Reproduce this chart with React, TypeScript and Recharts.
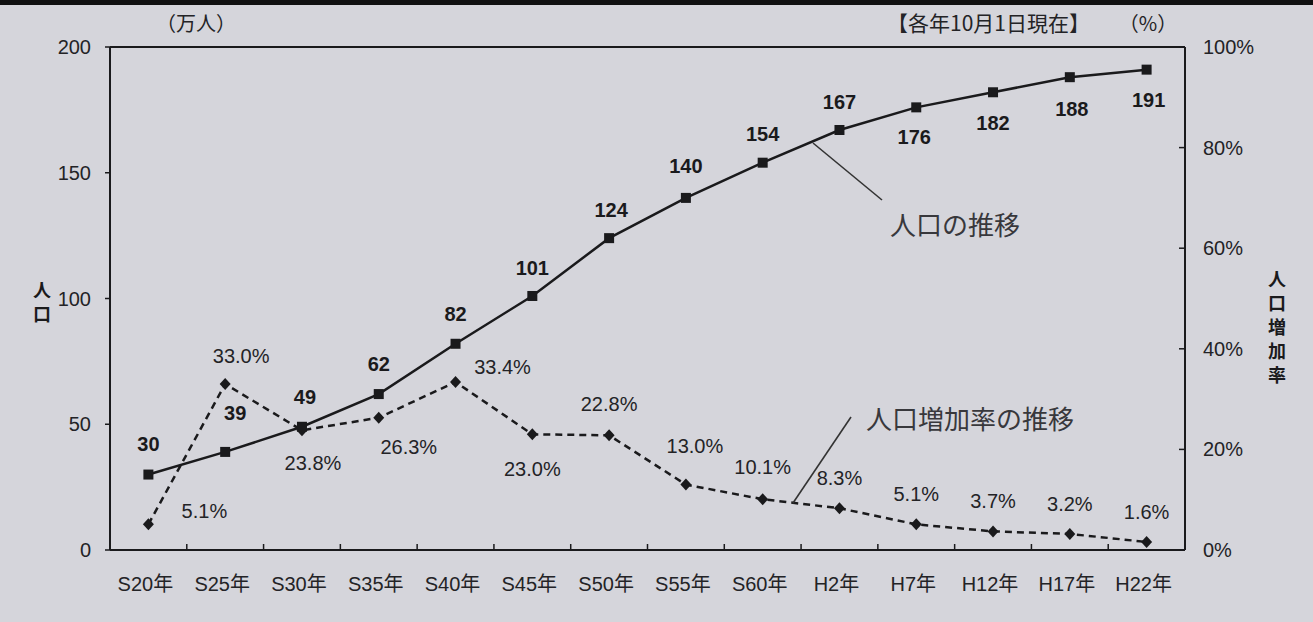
import {
    ComposedChart,
    LabelList,
    Line,
    ReferenceLine,
    XAxis,
    YAxis,
} from 'recharts';

const years = [
    'S20年', 'S25年', 'S30年', 'S35年', 'S40年', 'S45年', 'S50年',
    'S55年', 'S60年', 'H2年', 'H7年', 'H12年', 'H17年', 'H22年',
];
const population = [30, 39, 49, 62, 82, 101, 124, 140, 154, 167, 176, 182, 188, 191];
const growthRate = [5.1, 33.0, 23.8, 26.3, 33.4, 23.0, 22.8, 13.0, 10.1, 8.3, 5.1, 3.7, 3.2, 1.6];
const populationTicks = [0, 50, 100, 150, 200];
const rateTicks = [0, 20, 40, 60, 80, 100];

// where the printed labels sit relative to their point (dx, dy)
const popNudge: [number, number][] = [
    [0, -31], [10, -39], [3, -30], [0, -30], [0, -30], [0, -28], [2, -28],
    [0, -32], [0, -29], [0, -28], [-2, 30], [0, 31], [2, 32], [2, 30],
];
const rateNudge: [number, number][] = [
    [56, -13], [16, -28], [11, 33], [30, 29], [47, -15], [0, 35], [0, -31],
    [9, -39], [0, -32], [0, -30], [0, -30], [0, -30], [0, -30], [0, -30],
];

const W = 1313;
const H = 622;
const PLOT = { left: 110, right: 1185, top: 47, bottom: 550 };
const band = (PLOT.right - PLOT.left) / years.length;

const INK = '#1a1a1c';
const TEXT = '#232326';
const PAPER = '#d5d5db';
const NUM_FONT = "'Liberation Sans', Arial, 'Noto Sans CJK JP', sans-serif";
const JP_FONT = "'Noto Sans CJK JP', 'Liberation Sans', sans-serif";

const data = years.map((year, i) => ({
    year,
    pop: population[i],
    rate: growthRate[i],
}));

function XTick(props: any) {
    const { x, y, payload } = props;
    return (
        <g>
            <line x1={x + band / 2} x2={x + band / 2} y1={y} y2={y - 6} stroke={INK} strokeWidth={1.5} />
            <text
                x={x - 3}
                y={y + 34}
                textAnchor="middle"
                dominantBaseline="central"
                fontSize={20}
                fontFamily={NUM_FONT}
                fill={TEXT}
            >
                {payload.value}
            </text>
        </g>
    );
}

function RightTick(props: any) {
    const { x, y, payload } = props;
    return (
        <g>
            <line x1={x} x2={x - 6} y1={y} y2={y} stroke={INK} strokeWidth={1.5} />
            <text
                x={x + 18}
                y={y}
                textAnchor="start"
                dominantBaseline="central"
                fontSize={20}
                fontFamily={NUM_FONT}
                fill={TEXT}
            >
                {`${payload.value}%`}
            </text>
        </g>
    );
}

function PopLabel(props: any) {
    const { x, y, value, index } = props;
    const [dx, dy] = popNudge[index];
    return (
        <text
            x={x + dx}
            y={y + dy}
            textAnchor="middle"
            dominantBaseline="central"
            fontSize={20}
            fontWeight={700}
            fontFamily={NUM_FONT}
            fill={INK}
        >
            {value}
        </text>
    );
}

function RateLabel(props: any) {
    const { x, y, value, index } = props;
    const [dx, dy] = rateNudge[index];
    return (
        <text
            x={x + dx}
            y={y + dy}
            textAnchor="middle"
            dominantBaseline="central"
            fontSize={20}
            fontFamily={NUM_FONT}
            fill={TEXT}
        >
            {`${Number(value).toFixed(1)}%`}
        </text>
    );
}

function SquareDot(props: any) {
    const { cx, cy, index } = props;
    return <rect key={`sq-${index}`} x={cx - 5} y={cy - 5} width={10} height={10} fill={INK} />;
}

function DiamondDot(props: any) {
    const { cx, cy, index } = props;
    return (
        <polygon
            key={`dm-${index}`}
            points={`${cx},${cy - 6} ${cx + 5.5},${cy} ${cx},${cy + 6} ${cx - 5.5},${cy}`}
            fill={INK}
        />
    );
}

export default function App() {
    return (
        <div
            style={{
                position: 'absolute',
                left: 0,
                top: 0,
                width: W,
                height: H,
                background: PAPER,
                overflow: 'hidden',
            }}
        >
            <ComposedChart
                width={W}
                height={H}
                data={data}
                margin={{ top: PLOT.top, right: 0, bottom: 0, left: 0 }}
            >
                <XAxis
                    dataKey="year"
                    height={H - PLOT.bottom}
                    interval={0}
                    padding={{ left: band / 2, right: band / 2 }}
                    tickLine={false}
                    tickSize={0}
                    tickMargin={0}
                    axisLine={{ stroke: INK, strokeWidth: 2 }}
                    tick={<XTick />}
                />
                <YAxis
                    yAxisId="left"
                    width={PLOT.left}
                    domain={[0, 200]}
                    ticks={populationTicks}
                    tickSize={5}
                    tickMargin={14}
                    axisLine={{ stroke: INK, strokeWidth: 2 }}
                    tickLine={{ stroke: INK, strokeWidth: 1.5 }}
                    tick={{ fontSize: 20, fill: TEXT, fontFamily: NUM_FONT }}
                />
                <YAxis
                    yAxisId="right"
                    orientation="right"
                    width={W - PLOT.right}
                    domain={[0, 100]}
                    ticks={rateTicks}
                    tickLine={false}
                    tickSize={0}
                    tickMargin={0}
                    axisLine={{ stroke: INK, strokeWidth: 2 }}
                    tick={<RightTick />}
                />
                <ReferenceLine yAxisId="left" y={200} stroke={INK} strokeWidth={2} />
                <Line
                    yAxisId="right"
                    dataKey="rate"
                    stroke={INK}
                    strokeWidth={2.5}
                    strokeDasharray="7 5"
                    dot={<DiamondDot />}
                    isAnimationActive={false}
                >
                    <LabelList dataKey="rate" content={<RateLabel />} />
                </Line>
                <Line
                    yAxisId="left"
                    dataKey="pop"
                    stroke={INK}
                    strokeWidth={2.5}
                    dot={<SquareDot />}
                    isAnimationActive={false}
                >
                    <LabelList dataKey="pop" content={<PopLabel />} />
                </Line>
            </ComposedChart>

            <svg
                width={W}
                height={H}
                style={{ position: 'absolute', left: 0, top: 0, pointerEvents: 'none' }}
            >
                <rect x={0} y={0} width={W} height={5} fill="#111" />
                <g fontFamily={JP_FONT} fill={TEXT}>
                    <text x={196} y={22} fontSize={20} textAnchor="middle" dominantBaseline="central">
                        （万人）
                    </text>
                    <text x={1090} y={22} fontSize={21} textAnchor="end" dominantBaseline="central">
                        【各年10月1日現在】
                    </text>
                    <text x={1148} y={22} fontSize={20} textAnchor="middle" dominantBaseline="central">
                        （%）
                    </text>
                </g>
                <g fontFamily={JP_FONT} fontSize={18} fontWeight={700} fill={INK} textAnchor="middle" dominantBaseline="central">
                    <text x={42} y={289}>人</text>
                    <text x={42} y={313}>口</text>
                    {['人', '口', '増', '加', '率'].map((ch, i) => (
                        <text key={ch} x={1277} y={278 + i * 24}>{ch}</text>
                    ))}
                </g>
                <line x1={813} y1={143} x2={882} y2={200} stroke="#333" strokeWidth={1.6} />
                <line x1={793} y1={503} x2={851} y2={417} stroke="#333" strokeWidth={1.6} />
                <g fontFamily={JP_FONT} fontSize={26} fill="#38383c" dominantBaseline="central">
                    <text x={890} y={223}>人口の推移</text>
                    <text x={866} y={417}>人口増加率の推移</text>
                </g>
            </svg>
        </div>
    );
}
